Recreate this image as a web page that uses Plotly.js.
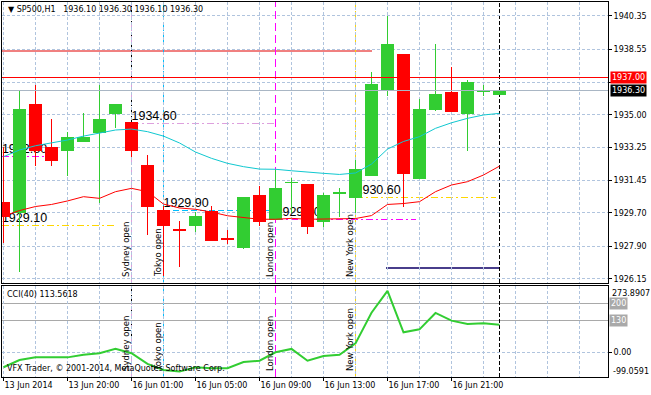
<!DOCTYPE html>
<html><head><meta charset="utf-8">
<script src="https://cdn.plot.ly/plotly-3.0.1.min.js"></script>
<style>html,body{margin:0;padding:0;background:#fff;}#chart{width:651px;height:395px;}
#chart .shapelayer path{shape-rendering:crispEdges;}
#chart .boxlayer path{shape-rendering:crispEdges;}
</style>
</head><body><div id="chart"></div>
<script>
// ---------- DATA ----------
const bars = [0,1,2,3,4,5,6,7,8,9,10,11,12,13,14,15,16,17,18,19,20,21,22,23,24,25,26,27,28,29,30,31];
const open  = [1930.25,1929.71,1935.58,1933.24,1933.06,1933.55,1934.03,1935.08,1934.57,1932.29,1929.86,1928.82,1929.01,1929.77,1928.31,1927.82,1930.67,1929.36,1931.33,1931.26,1929.23,1930.77,1930.52,1931.71,1936.34,1938.28,1931.55,1935.31,1936.18,1935.06,1936.26,1936.10];
const high  = [1933.24,1936.28,1936.61,1934.76,1934.07,1935.08,1936.61,1935.58,1934.60,1932.83,1930.07,1929.28,1929.77,1930.07,1928.78,1930.54,1931.15,1932.02,1931.60,1931.26,1930.79,1931.03,1932.56,1937.33,1940.33,1938.28,1935.84,1938.82,1937.56,1936.88,1936.61,1936.30];
const low   = [1928.06,1926.53,1932.23,1932.23,1931.69,1933.55,1930.22,1934.27,1932.74,1928.51,1926.31,1926.80,1928.69,1928.20,1928.02,1927.74,1928.99,1929.36,1929.68,1928.55,1928.96,1929.50,1929.71,1931.71,1936.01,1930.04,1931.55,1935.20,1935.20,1933.06,1936.03,1936.10];
const close = [1929.50,1935.26,1933.06,1932.52,1933.78,1933.78,1934.76,1935.58,1933.06,1930.04,1929.01,1928.78,1929.53,1928.20,1928.27,1930.54,1929.23,1931.03,1931.37,1928.99,1930.67,1930.81,1932.07,1936.61,1938.82,1931.84,1935.26,1936.07,1935.20,1936.77,1936.30,1936.30];
const maFast = [1932.74,1933.10,1933.33,1933.49,1933.64,1933.85,1934.03,1934.18,1934.23,1934.09,1933.85,1933.48,1932.99,1932.65,1932.38,1932.20,1932.07,1932.06,1931.98,1931.93,1931.84,1931.78,1931.86,1932.34,1933.15,1933.56,1933.82,1934.27,1934.57,1934.81,1934.99,1935.08];
const maSlow = [1929.53,1929.83,1930.05,1930.16,1930.35,1930.58,1930.49,1930.85,1931.03,1930.85,1930.18,1929.97,1929.90,1929.75,1929.55,1929.44,1929.36,1929.36,1929.41,1929.36,1929.36,1929.36,1929.40,1929.56,1930.16,1930.21,1930.31,1930.85,1931.21,1931.39,1931.75,1932.23];
const cci = [-62,-32,-21,-21,-21,-10,-4,14,-4,-48,-73,-80,-62,-66,-66,-40,-35,0,14,-35,-15,-10,37,164,254,83,95,163,131,117,120,113.5618];

const timeTickBars = [0,4,8,12,16,20,24,28];
const timeTickLabels = ['13 Jun 2014','13 Jun 20:00','16 Jun 01:00','16 Jun 05:00','16 Jun 09:00','16 Jun 13:00','16 Jun 17:00','16 Jun 21:00'];
const priceTicks = [1926.15,1927.90,1929.70,1931.45,1933.25,1935.00,1936.75,1938.55,1940.35];
const priceTickLabels = ['1926.15','1927.90','1929.70','1931.45','1933.25','1935.00','','1938.55','1940.35'];

const levelPrices = [1932.77,1929.02,1934.54,1929.84,1929.36,1930.53];
const levelLabels = ['1932.80','1929.10','1934.60','1929.90','1929.40','1930.60'];
const levelStart  = [-0.1,-0.1,8,10,17,22];
const levelEnd    = [2.6,7,17,17.4,25.8,30.8];
const levelColors = ['#FF00FF','#FFD700','#DDA0DD','#00BFFF','#FF00FF','#FFD700'];
const levelDash   = ['7px,3px,2px,3px','7px,3px,2px,3px','7px,3px,2px,3px','6px,3px','7px,3px,2px,3px','7px,3px,2px,3px'];

const sessionNames  = ['Sydney open','Tokyo open','London open','New York open'];
const sessionBars   = [8,10,17,22];
const sessionColors = ['#DDA0DD','#00BFFF','#FF00FF','#FFD700'];
const currentBar = 31;

const alertPrice = 1937.00, bidPrice = 1936.30;
const prevHighPrice = 1938.46, prevHighFrom = -0.1, prevHighTo = 23.0;
const lowMarkPrice = 1926.71, lowMarkFrom = 23.9, lowMarkTo = 31;
const cciLevels = [200,130];
const cciMax = 273.8907, cciMin = -99.0591;
const titleText = '\u25BC SP500,H1\u00A0\u00A0 1936.10 1936.30 1936.10 1936.30';

// ---------- LAYOUT GEOMETRY ----------
const W=651,H=395,ML=2,MR=43,MT=2,MB=18,PW=W-ML-MR,PH=H-MT-MB;
const fx = p => (p-ML)/PW;
const fy = p => (H-MB-p)/PH;
const xRange = [-0.09375, 37.78125];
const yRange = [1925.92, 1941.09];
const cciRange = [-102.3, 274.5];
const GRID = '#B0C4DE', GDASH = '3px,2px';
const FONT = 'DejaVu Sans';

const traces = [
  {type:'scatter', mode:'text', x:levelStart, y:levelPrices, text:levelLabels, textposition:'top right',
   textfont:{family:'Liberation Sans', size:12.5, color:'#000'}, xaxis:'x', yaxis:'y', hoverinfo:'skip'},
  {type:'candlestick', x:bars, open:open, high:high, low:low, close:close, xaxis:'x2', yaxis:'y2',
   increasing:{line:{color:'#32CD32', width:1}, fillcolor:'#32CD32'},
   decreasing:{line:{color:'#FF0000', width:1}, fillcolor:'#FF0000'}, whiskerwidth:0, hoverinfo:'skip'},
  {type:'scatter', mode:'lines', x:bars, y:maFast, xaxis:'x2', yaxis:'y2', line:{color:'#10C8D0', width:1}, hoverinfo:'skip'},
  {type:'scatter', mode:'lines', x:bars, y:maSlow, xaxis:'x2', yaxis:'y2', line:{color:'#FF0000', width:1}, hoverinfo:'skip'},
  {type:'scatter', mode:'lines', x:bars, y:cci, xaxis:'x3', yaxis:'y3', line:{color:'#32CD32', width:2}, hoverinfo:'skip'}
];

const shapes = [];
levelPrices.forEach((p,i)=>shapes.push({type:'line', xref:'x', yref:'y', x0:levelStart[i], x1:levelEnd[i], y0:p, y1:p,
  line:{color:levelColors[i], width:1, dash:levelDash[i]}, layer:'below'}));
shapes.push({type:'line', xref:'x', yref:'y', x0:prevHighFrom, x1:prevHighTo, y0:prevHighPrice, y1:prevHighPrice, line:{color:'#F08080', width:2}, layer:'below'});
shapes.push({type:'line', xref:'x', yref:'y', x0:lowMarkFrom, x1:lowMarkTo, y0:lowMarkPrice, y1:lowMarkPrice, line:{color:'#483D8B', width:2}, layer:'below'});
shapes.push({type:'line', xref:'paper', yref:'y', x0:0, x1:1, y0:alertPrice, y1:alertPrice, line:{color:'#FF0000', width:1}, layer:'above'});
shapes.push({type:'line', xref:'paper', yref:'y', x0:0, x1:1, y0:bidPrice, y1:bidPrice, line:{color:'#A9B6C4', width:1}, layer:'above'});
cciLevels.forEach(v=>shapes.push({type:'line', xref:'paper', yref:'y3', x0:0, x1:1, y0:v, y1:v, line:{color:'#A9A9A9', width:1}, layer:'below'}));
[['x','y',yRange],['x3','y3',cciRange]].forEach(([xr,yr,rg])=>{
  sessionBars.forEach((b,i)=>shapes.push({type:'line', xref:xr, yref:yr, x0:b, x1:b, y0:rg[0], y1:rg[1],
    line:{color:sessionColors[i], width:1, dash:'8px,4px'}, layer:'below'}));
  shapes.push({type:'line', xref:xr, yref:yr, x0:sessionBars[0], x1:sessionBars[0], y0:rg[0]+(rg[1]-rg[0])*0.45, y1:rg[1],
    line:{color:'#000', width:1, dash:'4px,3px,1px,3px'}, layer:'below'});
  shapes.push({type:'line', xref:xr, yref:yr, x0:currentBar, x1:currentBar, y0:rg[0], y1:rg[1],
    line:{color:'#000', width:1, dash:'4px,2px'}, layer:'below'});
});

const ann = [];
const A = o => ann.push(Object.assign({showarrow:false, font:{family:FONT, size:8, color:'#000'}, borderpad:1}, o));
A({xref:'paper', yref:'paper', x:fx(6), y:fy(9), xanchor:'left', yanchor:'middle', text:titleText});
A({xref:'paper', yref:'y', x:fx(610), y:alertPrice, xanchor:'left', yanchor:'middle', text:alertPrice.toFixed(2), bgcolor:'#FF0000', font:{family:FONT,size:8,color:'#fff'}});
A({xref:'paper', yref:'y', x:fx(610), y:bidPrice, xanchor:'left', yanchor:'middle', text:bidPrice.toFixed(2), bgcolor:'#000', font:{family:FONT,size:8,color:'#fff'}});
A({xref:'paper', yref:'paper', x:fx(610), y:fy(293), xanchor:'left', yanchor:'middle', text:cciMax.toFixed(4)});
A({xref:'paper', yref:'paper', x:fx(611), y:fy(371), xanchor:'left', yanchor:'middle', text:cciMin.toFixed(4)});
cciLevels.forEach(v=>A({xref:'paper', yref:'y3', x:fx(609), y:v, xanchor:'left', yanchor:'middle', text:String(v), bgcolor:'#A9A9A9', font:{family:FONT,size:8,color:'#fff'}}));
A({xref:'paper', yref:'paper', x:fx(5), y:fy(294), xanchor:'left', yanchor:'middle', text:'CCI(40) ' + cci[cci.length-1].toFixed(4)});
A({xref:'paper', yref:'paper', x:fx(5), y:fy(368), xanchor:'left', yanchor:'middle', text:'VFX Trader, \u00A9 2001-2014, MetaQuotes Software Corp.'});
sessionBars.forEach((b,i)=>{
  A({xref:'x', yref:'paper', x:b, y:fy(278), xanchor:'right', yanchor:'bottom', textangle:-90, text:sessionNames[i], font:{family:FONT,size:8.5,color:'#000'}, borderpad:0});
  A({xref:'x3', yref:'paper', x:b, y:fy(372), xanchor:'right', yanchor:'bottom', textangle:-90, text:sessionNames[i], font:{family:FONT,size:8.5,color:'#000'}, borderpad:0});
});

const gridX = {showgrid:true, gridcolor:GRID, griddash:GDASH, gridwidth:1};
const layout = {
  width:W, height:H, margin:{l:ML, r:MR, t:MT, b:MB}, paper_bgcolor:'#fff', plot_bgcolor:'#fff',
  showlegend:false, font:{family:FONT, size:8, color:'#000'}, boxgap:0.3, boxgroupgap:0,
  xaxis:Object.assign({domain:[0,1], anchor:'y', range:xRange, tickmode:'linear', tick0:0, dtick:2, showticklabels:false, ticks:'',
    zeroline:false, showline:true, mirror:true, linecolor:'#000', linewidth:1, rangeslider:{visible:false}, fixedrange:true}, gridX),
  yaxis:Object.assign({domain:[fy(283), 1], anchor:'x', range:yRange, side:'right', tickmode:'array', tickvals:priceTicks, ticktext:priceTickLabels,
    ticks:'outside', ticklen:3, tickcolor:'#000', tickfont:{family:FONT, size:8, color:'#000'}, zeroline:false,
    showline:true, mirror:true, linecolor:'#000', linewidth:1, fixedrange:true}, gridX),
  xaxis2:{overlaying:'x', anchor:'y2', range:xRange, visible:false, rangeslider:{visible:false}, fixedrange:true},
  yaxis2:{overlaying:'y', anchor:'x2', range:yRange, visible:false, fixedrange:true},
  xaxis3:Object.assign({domain:[0,1], anchor:'y3', range:xRange, tickmode:'array', tickvals:timeTickBars, ticktext:timeTickLabels,
    ticks:'outside', ticklen:3, tickcolor:'#000', ticklabelposition:'outside right', tickfont:{family:FONT, size:8, color:'#000'},
    minor:{tickmode:'linear', tick0:0, dtick:2, showgrid:true, gridcolor:GRID, griddash:GDASH, gridwidth:1, ticks:''},
    zeroline:false, showline:true, mirror:true, linecolor:'#000', linewidth:1, fixedrange:true}, gridX),
  yaxis3:Object.assign({domain:[0, fy(286)], anchor:'x3', range:cciRange, side:'right', tickmode:'array', tickvals:[0], ticktext:['0.00'],
    ticks:'outside', ticklen:3, tickcolor:'#000', tickfont:{family:FONT, size:8, color:'#000'}, zeroline:false,
    showline:true, mirror:true, linecolor:'#000', linewidth:1, fixedrange:true}, gridX),
  shapes:shapes, annotations:ann
};
Plotly.newPlot('chart', traces, layout, {staticPlot:true, displayModeBar:false});
</script></body></html>
